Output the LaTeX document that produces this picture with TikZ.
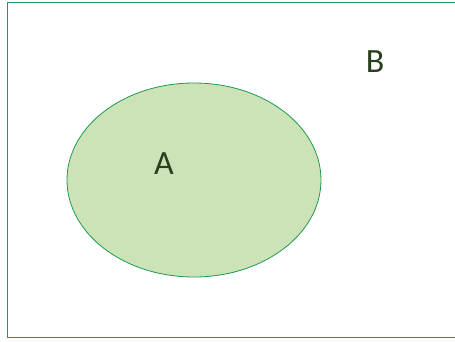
\documentclass[tikz,border=0pt]{standalone}
\usepackage{fontspec}
\setmainfont{Carlito}
\usepackage{xcolor}
\usetikzlibrary{positioning,shapes.geometric}
\definecolor{setline}{HTML}{1F9A52}
\definecolor{setfill}{HTML}{CCE3B8}
\definecolor{settext}{HTML}{2A3F1E}

\begin{document}
\begin{tikzpicture}[
  x=1pt, y=-1pt,
  universe/.style={draw=setline, line width=1pt},
  setshape/.style={ellipse, draw=setline, line width=0.8pt, fill=setfill, inner sep=0pt, minimum width=254pt, minimum height=194pt},
  setlabel/.style={text=settext, font=\fontsize{34}{34}\selectfont, inner sep=0pt}
]
\useasboundingbox (0,0) rectangle (455,341);
\clip (0,0) rectangle (455,341);
\draw[universe] (7,2) rectangle (470,337);
\node[setshape] (setA) at (194,180) {};
\node[setlabel] (labelA) at (164,164) {A};
\node[setlabel] (labelB) at (375,62) {B};
\end{tikzpicture}
\end{document}
